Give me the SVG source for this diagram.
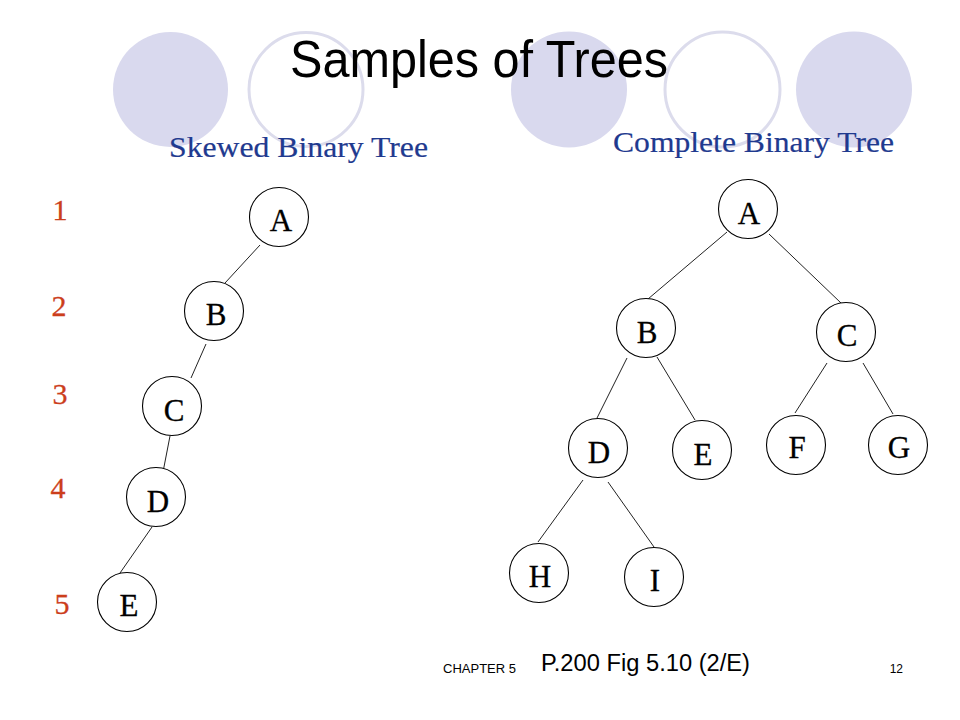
<svg xmlns="http://www.w3.org/2000/svg" width="960" height="720" viewBox="0 0 960 720">
<style>
.bgf{fill:#D9D9EE;stroke:none}
.bgo{fill:none;stroke:#DCDCEC;stroke-width:3}
.node circle{fill:#fff;stroke:#000;stroke-width:1.1}
.node text{font-family:"Liberation Serif","Times New Roman",serif;font-size:31px;fill:#000;stroke:#000;stroke-width:0.3;text-anchor:middle}
.edge line{stroke:#222;stroke-width:1}
.lvl{font-family:"Liberation Serif","Times New Roman",serif;font-size:30px;fill:#CC3E1C;stroke:#CC3E1C;stroke-width:0.3;text-anchor:middle}
.sub{font-family:"Liberation Serif","Times New Roman",serif;font-size:30px;fill:#1F3A8F;stroke:#1F3A8F;stroke-width:0.2}
.foot{font-family:"Liberation Sans",Arial,sans-serif;fill:#000}
</style>
<rect width="960" height="720" fill="#fff"/>
<g id="background">
<circle class="bgf" cx="170.5" cy="89.5" r="57.5"/>
<circle class="bgo" cx="306" cy="89.5" r="57"/>
<circle class="bgf" cx="569" cy="89.5" r="58"/>
<circle class="bgo" cx="722.5" cy="89.5" r="57.5"/>
<circle class="bgf" cx="854" cy="89.5" r="58"/>
</g>
<text id="title" x="290" y="77" font-family="'Liberation Sans',Arial,sans-serif" font-size="52" fill="#000" textLength="378" lengthAdjust="spacingAndGlyphs">Samples of Trees</text>
<text id="sub1" class="sub" x="169" y="157" textLength="259" lengthAdjust="spacingAndGlyphs">Skewed Binary Tree</text>
<text id="sub2" class="sub" x="613" y="152" textLength="281" lengthAdjust="spacingAndGlyphs">Complete Binary Tree</text>
<g id="levels">
<text class="lvl" x="60" y="220">1</text>
<text class="lvl" x="59" y="316">2</text>
<text class="lvl" x="60" y="404">3</text>
<text class="lvl" x="58" y="498">4</text>
<text class="lvl" x="62" y="614">5</text>
</g>
<g id="connectors" class="edge">
<line x1="260" y1="245" x2="225" y2="283"/>
<line x1="206" y1="344" x2="191" y2="378"/>
<line x1="170" y1="436" x2="163" y2="472"/>
<line x1="152" y1="527" x2="120" y2="573"/>
<line x1="727" y1="232" x2="648" y2="299"/>
<line x1="769" y1="234" x2="841" y2="303"/>
<line x1="627" y1="358" x2="597" y2="418"/>
<line x1="657" y1="357" x2="695" y2="420"/>
<line x1="827" y1="363" x2="795" y2="413"/>
<line x1="863" y1="363" x2="893" y2="414"/>
<line x1="583" y1="480" x2="538" y2="542"/>
<line x1="608" y1="482" x2="654" y2="547"/>
</g>
<g id="s-A" class="node"><circle cx="279" cy="217" r="29.5"/><text x="281" y="231">A</text></g>
<g id="s-B" class="node"><circle cx="214" cy="311" r="29.5"/><text x="216" y="325">B</text></g>
<g id="s-C" class="node"><circle cx="172" cy="406" r="29.5"/><text x="174" y="421">C</text></g>
<g id="s-D" class="node"><circle cx="156" cy="497" r="29.5"/><text x="158" y="512">D</text></g>
<g id="s-E" class="node"><circle cx="127" cy="602" r="29.5"/><text x="129" y="616">E</text></g>
<g id="c-A" class="node"><circle cx="748" cy="209" r="29.5"/><text x="749" y="224">A</text></g>
<g id="c-B" class="node"><circle cx="646" cy="328" r="29.5"/><text x="647" y="343">B</text></g>
<g id="c-C" class="node"><circle cx="846" cy="332" r="29.5"/><text x="847" y="346">C</text></g>
<g id="c-D" class="node"><circle cx="598" cy="448" r="29.5"/><text x="599" y="463">D</text></g>
<g id="c-E" class="node"><circle cx="702" cy="450" r="29.5"/><text x="703" y="465">E</text></g>
<g id="c-F" class="node"><circle cx="796" cy="445" r="29.5"/><text x="797" y="458">F</text></g>
<g id="c-G" class="node"><circle cx="898" cy="445" r="29.5"/><text x="899" y="458">G</text></g>
<g id="c-H" class="node"><circle cx="539" cy="573" r="29.5"/><text x="540" y="587">H</text></g>
<g id="c-I" class="node"><circle cx="654" cy="577" r="29.5"/><text x="655" y="591">I</text></g>
<g id="footer">
<text class="foot" x="443" y="673" font-size="12.5" textLength="73" lengthAdjust="spacingAndGlyphs">CHAPTER 5</text>
<text class="foot" x="541" y="671" font-size="23.5" textLength="209" lengthAdjust="spacingAndGlyphs">P.200 Fig 5.10 (2/E)</text>
<text class="foot" x="903" y="673" font-size="12" text-anchor="end">12</text>
</g>
</svg>
